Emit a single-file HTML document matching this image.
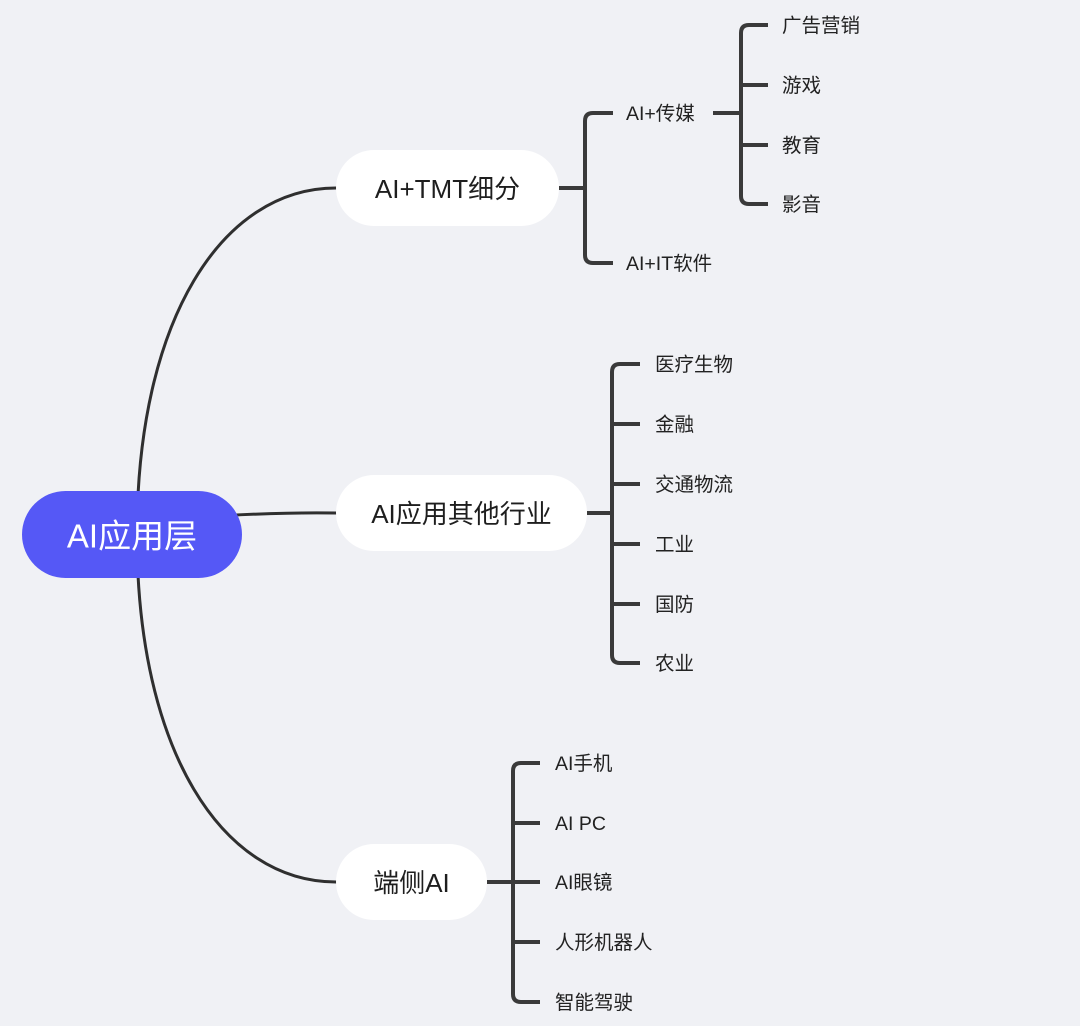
<!DOCTYPE html>
<html><head><meta charset="utf-8"><style>
html,body{margin:0;padding:0;background:#F0F1F5;}
svg{display:block;}
text{font-family:"Liberation Sans","Noto Sans CJK SC",sans-serif;}
</style></head><body>
<svg width="1080" height="1026" viewBox="0 0 1080 1026" xmlns="http://www.w3.org/2000/svg">
<rect width="1080" height="1026" fill="#F0F1F5"/>
<g fill="none" stroke="#2f2f2f" stroke-width="3" stroke-linecap="round">
<path d="M137 535 C137 320 222 188 336 188"/>
<path d="M137 535 C137 750 222 882 336 882"/>
<path d="M200 517 Q280 512 336 513"/>
</g>
<g fill="none" stroke="#3a3a3a" stroke-width="4" stroke-linecap="butt" stroke-linejoin="round">
<path d="M559 188 H585"/>
<path d="M613 113 H593 Q585 113 585 121 V255 Q585 263 593 263 H613"/>
<path d="M713 113 H741"/>
<path d="M768 25 H749 Q741 25 741 33 V196 Q741 204 749 204 H768"/>
<path d="M741 85 H768 M741 145 H768"/>
<path d="M587 513 H612"/>
<path d="M640 364 H620 Q612 364 612 372 V655 Q612 663 620 663 H640"/>
<path d="M612 424 H640 M612 484 H640 M612 544 H640 M612 604 H640"/>
<path d="M487 882 H513"/>
<path d="M540 763 H521 Q513 763 513 771 V994 Q513 1002 521 1002 H540"/>
<path d="M513 823 H540 M513 882 H540 M513 942 H540"/>
</g>
<rect x="22" y="491" width="220" height="87" rx="43.5" fill="#5558F6"/>
<text x="132" y="536" text-anchor="middle" dominant-baseline="central" font-size="33" fill="#ffffff">AI应用层</text>
<rect x="336" y="150" width="223" height="76" rx="38" fill="#ffffff"/>
<text x="447.5" y="189" text-anchor="middle" dominant-baseline="central" font-size="26" fill="#1e1e1e">AI+TMT细分</text>
<rect x="336" y="475" width="251" height="76" rx="38" fill="#ffffff"/>
<text x="461.5" y="514" text-anchor="middle" dominant-baseline="central" font-size="26" fill="#1e1e1e">AI应用其他行业</text>
<rect x="336" y="844" width="151" height="76" rx="38" fill="#ffffff"/>
<text x="411.5" y="883" text-anchor="middle" dominant-baseline="central" font-size="26" fill="#1e1e1e">端侧AI</text>
<g font-size="19.5" fill="#222" dominant-baseline="central">
<text x="626" y="114">AI+传媒</text>
<text x="626" y="264">AI+IT软件</text>
<text x="782" y="26">广告营销</text>
<text x="782" y="86">游戏</text>
<text x="782" y="146">教育</text>
<text x="782" y="205">影音</text>
<text x="655" y="365">医疗生物</text>
<text x="655" y="425">金融</text>
<text x="655" y="485">交通物流</text>
<text x="655" y="545">工业</text>
<text x="655" y="605">国防</text>
<text x="655" y="664">农业</text>
<text x="555" y="764">AI手机</text>
<text x="555" y="824">AI PC</text>
<text x="555" y="883">AI眼镜</text>
<text x="555" y="943">人形机器人</text>
<text x="555" y="1003">智能驾驶</text>
</g>
</svg>
</body></html>
